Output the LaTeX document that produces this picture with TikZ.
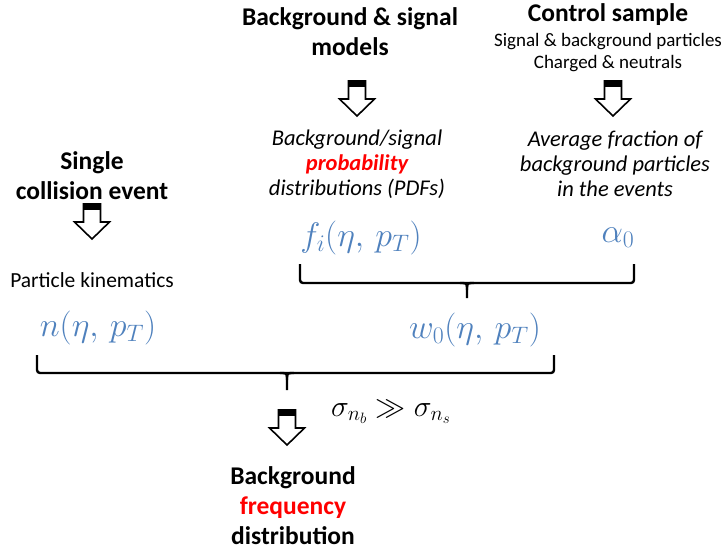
\RequirePackage{fix-cm}
\documentclass[tikz,border=0pt]{standalone}
\usepackage{amsmath,amssymb}
\usepackage{fontspec}
\setmainfont{Carlito}
\usepackage{tikz}
\usepackage{xcolor}
\definecolor{mathblue}{RGB}{79,129,189}
\definecolor{hired}{RGB}{255,0,0}
\tikzset{
  head/.style={font=\bfseries\fontsize{25.5}{30}\selectfont, align=center, inner sep=0pt},
  sub/.style={font=\fontsize{19}{22}\selectfont, align=center, inner sep=0pt},
  note/.style={font=\itshape\fontsize{22.5}{25}\selectfont, align=center, inner sep=0pt},
  plain/.style={font=\fontsize{21.5}{25}\selectfont, align=center, inner sep=0pt},
  quant/.style={font=\fontsize{34}{38}\selectfont, text=mathblue, inner sep=0pt},
  brace/.style={line width=2.4pt, rounded corners=3pt},
  blockarrow/.pic={
    \fill (-8.5,0) rectangle (8.5,6);
    \draw[line width=1.6pt, line join=miter] (-8.5,0) -- (8.5,0) -- (8.5,18) -- (17.5,18)
      -- (0,35) -- (-17.5,18) -- (-8.5,18) -- cycle;
  }
}
\begin{document}
\begin{tikzpicture}[x=1pt, y=-1pt]
  \useasboundingbox (0,0) rectangle (726,552);

  % top row
  \node[head] (models) at (350,32) {Background \& signal\\models};
  \node[head] (ctrl) at (608,15) {Control sample};
  \node[sub] (ctrlsub) at (608,53) {Signal \& background particles\\Charged \& neutrals};
  \pic at (357,81) {blockarrow};
  \pic at (613,81) {blockarrow};
  \node[note] (pdf) at (357,164) {Background/signal\\{\bfseries\color{hired}probability}\\distributions (PDFs)};
  \node[note] (frac) at (615,164) {Average fraction of\\background particles\\in the events};

  % left column
  \node[head] (single) at (92,176) {Single\\collision event};
  \pic at (92,204) {blockarrow};
  \node[plain] (kin) at (92,280) {Particle kinematics};

  % quantities
  \node[quant] (fi) at (361,238) {$f_i(\eta,\, p_T)$};
  \node[quant] (alpha) at (618,238) {$\alpha_0$};
  \node[quant] (n) at (98,328) {$n(\eta,\, p_T)$};
  \node[quant] (w) at (475,330) {$w_0(\eta,\, p_T)$};

  % braces
  \draw[brace] (300,264) -- (300,283) -- (634,283) -- (634,264);
  \draw[line width=2.4pt] (460,283) .. controls (467,283) .. (467,290) -- (467,298);
  \draw[line width=2.4pt] (474,283) .. controls (467,283) .. (467,290);
  \draw[brace] (37,355) -- (37,373) -- (554,373) -- (554,355);
  \draw[line width=2.4pt] (280,373) .. controls (287,373) .. (287,380) -- (287,390);
  \draw[line width=2.4pt] (294,373) .. controls (287,373) .. (287,380);

  % bottom
  \pic at (287,410) {blockarrow};
  \node[font=\fontsize{30}{32}\selectfont, inner sep=0pt] (sig) at (391,412) {$\sigma_{n_b} \gg \sigma_{n_s}$};
  \node[head] (freq) at (293,506) {Background\\{\color{hired}frequency}\\distribution};
\end{tikzpicture}
\end{document}
